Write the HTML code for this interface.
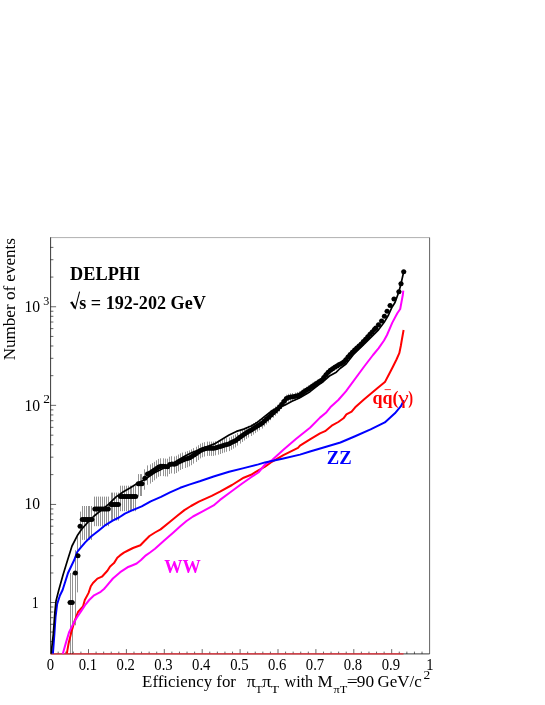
<!DOCTYPE html>
<html><head><meta charset="utf-8"><title>plot</title>
<style>
html,body{margin:0;padding:0;background:#fff;}
body{width:545px;height:705px;position:relative;overflow:hidden;font-family:"Liberation Serif",serif;color:#000;}
svg text{white-space:pre;}
</style></head><body>
<svg width="545" height="705" viewBox="0 0 545 705" style="position:absolute;left:0;top:0"><defs><clipPath id="cp"><rect x="50.6" y="237.6" width="379.0" height="416.9"/></clipPath></defs><path d="M50.6 237.6H429.6" stroke="#000" stroke-width="0.32" fill="none"/><path d="M429.6 237.6V653.9" stroke="#000" stroke-width="0.62" fill="none"/><path d="M50.6 237.29999999999998V653.9H429.6" stroke="#000" stroke-width="0.78" fill="none"/><path d="M50.6 641.58h2.8 M50.6 632.06h2.8 M50.6 624.29h2.8 M50.6 617.71h2.8 M50.6 612.02h2.8 M50.6 606.99h2.8 M50.6 602.50h5.5 M50.6 572.98h2.8 M50.6 555.72h2.8 M50.6 543.47h2.8 M50.6 533.97h2.8 M50.6 526.20h2.8 M50.6 519.64h2.8 M50.6 513.95h2.8 M50.6 508.94h2.8 M50.6 504.45h5.5 M50.6 474.62h2.8 M50.6 457.17h2.8 M50.6 444.79h2.8 M50.6 435.18h2.8 M50.6 427.34h2.8 M50.6 420.70h2.8 M50.6 414.95h2.8 M50.6 409.88h2.8 M50.6 405.35h5.5 M50.6 375.67h2.8 M50.6 358.31h2.8 M50.6 345.99h2.8 M50.6 336.43h2.8 M50.6 328.62h2.8 M50.6 322.02h2.8 M50.6 316.31h2.8 M50.6 311.26h2.8 M50.6 306.75h5.5 M50.6 277.07h2.8 M50.6 259.71h2.8 M50.6 247.39h2.8 M58.18 653.9v-2.3 M65.76 653.9v-2.3 M73.34 653.9v-2.3 M80.92 653.9v-2.3 M88.50 653.9v-4.8 M96.08 653.9v-2.3 M103.66 653.9v-2.3 M111.24 653.9v-2.3 M118.82 653.9v-2.3 M126.40 653.9v-4.8 M133.98 653.9v-2.3 M141.56 653.9v-2.3 M149.14 653.9v-2.3 M156.72 653.9v-2.3 M164.30 653.9v-4.8 M171.88 653.9v-2.3 M179.46 653.9v-2.3 M187.04 653.9v-2.3 M194.62 653.9v-2.3 M202.20 653.9v-4.8 M209.78 653.9v-2.3 M217.36 653.9v-2.3 M224.94 653.9v-2.3 M232.52 653.9v-2.3 M240.10 653.9v-4.8 M247.68 653.9v-2.3 M255.26 653.9v-2.3 M262.84 653.9v-2.3 M270.42 653.9v-2.3 M278.00 653.9v-4.8 M285.58 653.9v-2.3 M293.16 653.9v-2.3 M300.74 653.9v-2.3 M308.32 653.9v-2.3 M315.90 653.9v-4.8 M323.48 653.9v-2.3 M331.06 653.9v-2.3 M338.64 653.9v-2.3 M346.22 653.9v-2.3 M353.80 653.9v-4.8 M361.38 653.9v-2.3 M368.96 653.9v-2.3 M376.54 653.9v-2.3 M384.12 653.9v-2.3 M391.70 653.9v-4.8 M399.28 653.9v-2.3 M406.86 653.9v-2.3 M414.44 653.9v-2.3 M422.02 653.9v-2.3" stroke="#000" stroke-width="0.6" fill="none"/><path d="M50.6 653.9H403.5" stroke="#e8303a" stroke-width="1.3" fill="none"/><g clip-path="url(#cp)" fill="none" stroke-linejoin="round" stroke-linecap="butt"><path d="M70.5 573.0V653.9 M67.3 602.5h5.6 M72.5 573.0V653.9 M69.4 602.5h5.6 M75.5 550.2V625.3 M72.5 573.0h5.6 M77.5 536.3V592.4 M75.1 555.7h5.6 M80.5 511.6V548.5 M77.3 526.2h5.6 M82.5 506.0V539.9 M79.5 519.6h5.6 M84.5 506.0V539.9 M81.4 519.6h5.6 M86.5 506.0V539.9 M83.3 519.6h5.6 M88.5 506.0V539.9 M85.2 519.6h5.6 M89.5 506.0V539.9 M87.1 519.6h5.6 M91.5 506.0V539.9 M89.0 519.6h5.6 M94.5 496.6V526.2 M92.1 508.9h5.6 M96.5 496.6V526.2 M94.0 508.9h5.6 M98.5 496.6V526.2 M95.9 508.9h5.6 M100.5 496.6V526.2 M97.8 508.9h5.6 M102.5 496.6V526.2 M99.7 508.9h5.6 M104.5 496.6V526.2 M101.6 508.9h5.6 M106.5 496.6V526.2 M103.5 508.9h5.6 M108.5 496.6V526.2 M105.4 508.9h5.6 M111.5 492.6V520.6 M108.2 504.4h5.6 M112.5 492.6V520.6 M110.0 504.4h5.6 M114.5 492.6V520.6 M111.9 504.4h5.6 M116.5 492.6V520.6 M113.7 504.4h5.6 M118.5 492.6V520.6 M115.6 504.4h5.6 M120.5 485.7V511.2 M117.7 496.6h5.6 M122.5 485.7V511.2 M119.6 496.6h5.6 M124.5 485.7V511.2 M121.5 496.6h5.6 M126.5 485.7V511.2 M123.4 496.6h5.6 M128.5 485.7V511.2 M125.3 496.6h5.6 M130.5 485.7V511.2 M127.2 496.6h5.6 M131.5 485.7V511.2 M129.1 496.6h5.6 M133.5 485.7V511.2 M131.0 496.6h5.6 M135.5 485.7V511.2 M132.9 496.6h5.6 M138.5 474.1V496.0 M135.5 483.7h5.6 M140.5 474.1V496.0 M137.3 483.7h5.6 M141.5 474.1V496.0 M139.1 483.7h5.6 M144.5 469.3V489.7 M142.1 478.3h5.6 M147.5 465.4V484.8 M144.7 474.0h5.6 M150.5 464.4V483.6 M147.2 473.0h5.6 M152.5 463.1V482.0 M149.4 471.5h5.6 M154.5 461.8V480.3 M151.6 470.0h5.6 M156.5 460.3V478.5 M153.8 468.5h5.6 M158.5 458.9V476.8 M156.0 466.9h5.6 M160.5 458.3V476.1 M158.2 466.3h5.6 M163.5 458.3V476.1 M160.4 466.3h5.6 M165.5 458.6V476.4 M162.6 466.6h5.6 M167.5 458.7V476.5 M164.8 466.7h5.6 M169.5 456.7V474.0 M167.0 464.5h5.6 M171.5 456.2V473.4 M169.2 463.9h5.6 M174.5 456.5V473.8 M171.4 464.3h5.6 M176.5 455.8V473.0 M173.6 463.6h5.6 M178.5 454.5V471.4 M175.8 462.1h5.6 M180.5 453.4V470.0 M178.0 460.9h5.6 M182.5 452.6V469.0 M180.2 460.0h5.6 M185.5 451.8V468.0 M182.4 459.1h5.6 M187.5 451.1V467.3 M184.6 458.4h5.6 M189.5 450.4V466.4 M186.8 457.7h5.6 M191.5 449.4V465.2 M189.0 456.6h5.6 M193.5 448.1V463.6 M191.2 455.1h5.6 M196.5 446.7V461.9 M193.4 453.6h5.6 M198.5 445.2V460.1 M195.6 452.0h5.6 M200.5 443.7V458.4 M197.8 450.4h5.6 M202.5 442.8V457.3 M200.0 449.5h5.6 M204.5 442.2V456.6 M202.2 448.8h5.6 M207.5 441.6V455.9 M204.4 448.2h5.6 M209.5 441.6V455.9 M206.6 448.2h5.6 M211.5 441.6V455.9 M208.8 448.2h5.6 M213.5 441.6V455.9 M211.0 448.2h5.6 M215.5 441.2V455.4 M213.2 447.7h5.6 M218.5 440.6V454.7 M215.4 447.1h5.6 M220.5 440.0V454.0 M217.6 446.4h5.6 M222.5 439.3V453.2 M219.8 445.7h5.6 M224.5 438.7V452.5 M222.0 445.1h5.6 M226.5 438.1V451.8 M224.2 444.4h5.6 M229.5 437.5V451.1 M226.4 443.7h5.6 M231.5 436.5V449.8 M228.6 442.6h5.6 M233.5 435.4V448.6 M230.8 441.5h5.6 M235.5 434.4V447.4 M233.0 440.4h5.6 M237.5 432.8V445.6 M235.2 438.7h5.6 M240.5 431.1V443.6 M237.4 436.9h5.6 M242.5 429.7V442.0 M239.6 435.4h5.6 M244.5 428.4V440.5 M241.8 434.0h5.6 M246.5 427.1V438.9 M244.0 432.6h5.6 M248.5 425.8V437.5 M246.2 431.2h5.6 M251.5 424.5V436.0 M248.4 429.9h5.6 M253.5 423.2V434.6 M250.6 428.5h5.6 M255.5 421.9V433.1 M252.8 427.2h5.6 M257.5 420.7V431.6 M255.0 425.8h5.6 M259.5 419.4V430.2 M257.2 424.4h5.6 M262.5 418.0V428.6 M259.4 423.0h5.6 M264.5 416.0V426.4 M261.6 420.9h5.6 M266.5 414.3V424.5 M263.8 419.1h5.6 M268.5 412.7V422.6 M266.0 417.3h5.6 M270.5 410.5V420.2 M268.2 415.1h5.6 M273.5 408.3V417.7 M270.4 412.7h5.6 M275.5 406.5V415.8 M272.6 410.9h5.6 M277.5 404.8V413.8 M274.8 409.1h5.6 M279.5 402.6V411.4 M277.0 406.8h5.6 M281.5 400.1V408.6 M279.2 404.2h5.6 M284.5 397.4V405.6 M281.4 401.3h5.6 M286.5 394.7V402.6 M283.6 398.5h5.6 M288.5 393.8V401.6 M285.8 397.5h5.6 M290.5 393.3V401.0 M288.0 397.0h5.6 M292.5 393.1V400.8 M290.2 396.8h5.6 M295.5 392.6V400.4 M292.4 396.3h5.6 M297.5 392.0V399.7 M294.6 395.7h5.6 M299.5 391.4V399.0 M296.8 395.0h5.6 M301.5 389.9V397.4 M299.0 393.5h5.6 M303.5 388.3V395.6 M301.2 391.8h5.6 M306.5 386.8V394.0 M303.4 390.3h5.6 M308.5 385.5V392.6 M305.6 388.9h5.6 M310.5 384.1V391.1 M307.8 387.5h5.6 M312.5 382.7V389.6 M310.0 386.0h5.6 M314.5 381.3V388.0 M312.2 384.5h5.6 M317.5 379.9V386.5 M314.4 383.1h5.6 M319.5 378.5V385.0 M316.6 381.6h5.6 M321.5 377.1V383.5 M318.8 380.2h5.6 M323.5 374.6V380.8 M321.0 377.6h5.6 M325.5 371.9V377.9 M323.2 374.8h5.6 M328.5 369.4V375.2 M325.4 372.2h5.6 M330.5 367.6V373.3 M327.6 370.3h5.6 M332.5 366.1V371.7 M329.8 368.8h5.6 M334.5 364.6V370.1 M332.0 367.3h5.6 M336.5 363.3V368.7 M334.2 365.9h5.6 M339.5 362.0V367.3 M336.4 364.6h5.6 M341.5 360.9V366.1 M338.6 363.4h5.6 M343.5 359.6V364.8 M340.8 362.1h5.6 M345.5 357.2V362.3 M343.0 359.7h5.6 M347.5 354.7V359.5 M345.2 357.0h5.6 M350.5 352.2V356.9 M347.4 354.5h5.6 M352.5 349.9V354.5 M349.6 352.2h5.6 M354.5 347.7V352.2 M351.8 349.9h5.6 M356.5 345.8V350.2 M354.0 347.9h5.6 M358.5 343.9V348.2 M356.2 346.0h5.6 M361.5 341.8V346.0 M358.4 343.9h5.6 M363.5 339.6V343.7 M360.6 341.6h5.6 M365.5 337.3V341.2 M362.8 339.2h5.6 M367.5 334.9V338.7 M365.0 336.8h5.6 M369.5 332.5V336.3 M367.2 334.3h5.6 M372.5 330.1V333.8 M369.4 331.9h5.6 M374.5 327.8V331.3 M371.6 329.5h5.6 M375.5 326.3V329.8 M373.0 328.0h5.6 M378.5 323.1V326.4 M375.7 324.7h5.6 M381.5 319.3V322.5 M378.8 320.9h5.6 M384.5 314.8V317.8 M381.6 316.3h5.6 M387.5 309.9V312.8 M384.3 311.3h5.6 M390.5 304.2V306.9 M387.3 305.5h5.6 M394.5 297.8V300.3 M391.2 299.0h5.6 M398.5 290.6V292.9 M396.1 291.7h5.6 M401.5 282.7V284.7 M398.2 283.7h5.6 M403.5 270.8V272.6 M400.9 271.7h5.6" stroke="#000" stroke-opacity="0.85" stroke-width="0.5"/><polyline points="66.8,653.7 68.7,642.9 71.4,631.9 74.7,620.8 78.0,612.0 83.0,606.5 84.8,600.0 88.6,592.9 90.8,586.3 93.0,583.0 97.4,578.6 101.9,576.7 107.4,570.8 110.1,566.4 114.0,563.1 117.3,557.8 120.0,555.4 123.9,552.6 128.0,550.5 133.0,548.0 140.4,545.2 144.0,541.5 149.5,536.0 155.0,532.5 160.6,529.4 169.7,522.0 177.0,516.0 184.4,510.1 191.0,506.0 198.9,501.7 211.7,495.8 220.0,491.6 232.0,485.0 243.7,477.7 251.1,474.8 258.4,470.3 265.0,466.7 270.5,462.6 283.4,455.2 298.0,447.9 300.0,445.6 310.0,439.3 320.0,433.4 325.1,431.2 331.7,425.7 338.3,422.0 343.5,418.3 346.4,414.3 351.6,411.7 355.2,407.3 360.0,402.9 364.2,399.3 377.0,388.6 384.9,382.1 388.9,374.5 392.9,366.7 396.5,359.5 399.3,353.2 400.8,346.0 401.9,339.5 403.6,330.0" stroke="#ff0000" stroke-width="2.0"/><polyline points="62.8,653.7 65.9,642.9 69.2,631.9 73.1,624.1 76.9,617.5 81.3,610.9 85.7,604.3 89.2,600.0 94.1,595.3 100.7,591.8 104.0,589.0 106.3,586.3 112.9,578.5 120.2,572.2 127.5,567.3 132.0,565.5 136.7,563.5 141.0,560.0 145.9,555.3 150.0,552.5 155.0,548.8 164.2,540.6 173.4,532.4 180.0,526.5 186.2,521.3 193.0,516.5 202.6,511.4 213.6,505.4 220.0,499.9 232.0,491.0 241.5,484.0 251.1,477.2 258.4,472.5 265.0,464.5 272.4,459.8 283.4,449.7 296.2,438.7 310.0,427.7 320.0,417.6 325.9,412.8 330.3,407.3 338.3,400.0 345.9,391.3 364.2,366.5 373.0,355.0 378.5,348.3 384.0,340.5 387.0,335.0 392.2,322.9 397.3,313.3 400.2,309.0 401.5,302.0 402.8,295.0 403.3,290.7" stroke="#ff00ff" stroke-width="2.0"/><polyline points="52.9,653.7 54.4,634.0 55.5,617.5 57.1,604.3 59.9,595.5 62.6,590.0 68.0,573.0 74.2,560.0 77.2,552.0 80.1,548.3 85.2,542.4 91.1,536.5 98.5,530.7 105.8,524.8 113.1,520.4 119.0,517.5 124.9,513.7 131.4,510.7 141.7,506.4 150.7,501.3 161.0,496.8 170.0,492.3 180.2,487.8 189.2,484.6 199.7,481.3 214.4,476.2 229.1,471.7 243.7,468.1 258.4,464.4 265.0,462.4 283.4,458.4 300.0,454.6 310.0,451.5 320.2,448.5 340.4,442.5 354.5,436.5 370.6,429.4 384.8,422.4 394.9,413.3 400.9,406.2 403.9,400.2" stroke="#0000ff" stroke-width="2.0"/><polyline points="51.1,653.7 53.3,634.0 54.9,612.0 56.0,601.0 58.8,590.0 63.0,575.0 67.6,560.0 72.0,546.0 77.2,535.8 81.6,529.2 88.2,521.9 94.1,516.0 101.4,510.1 108.7,504.2 116.1,496.9 123.4,491.7 130.0,488.0 135.9,484.3 144.3,479.8 154.5,472.8 163.5,468.3 175.0,462.0 185.0,456.0 192.0,452.5 199.7,449.6 214.4,443.9 221.7,439.5 229.1,435.1 236.4,431.4 243.7,429.1 251.1,426.0 257.0,422.6 264.4,416.6 271.7,410.8 278.0,407.6 284.7,405.2 292.0,401.3 299.4,398.0 306.7,393.7 310.0,391.7 318.3,385.0 322.0,382.5 329.4,376.0 336.3,372.2 340.0,368.5 346.0,364.0 353.3,354.7 364.4,343.9 375.0,333.3 378.5,329.8 384.0,322.6 388.5,315.0 392.0,307.2 395.0,302.5 398.9,291.7 401.0,283.7 403.7,271.7" stroke="#000" stroke-width="1.7"/></g><g fill="#000"><circle cx="70.1" cy="602.5" r="2.5"/><circle cx="72.2" cy="602.5" r="2.5"/><circle cx="75.3" cy="573.0" r="2.5"/><circle cx="77.9" cy="555.7" r="2.5"/><circle cx="80.1" cy="526.2" r="2.5"/><circle cx="82.3" cy="519.6" r="2.5"/><circle cx="84.2" cy="519.6" r="2.5"/><circle cx="86.1" cy="519.6" r="2.5"/><circle cx="88.0" cy="519.6" r="2.5"/><circle cx="89.9" cy="519.6" r="2.5"/><circle cx="91.8" cy="519.6" r="2.5"/><circle cx="94.9" cy="508.9" r="2.5"/><circle cx="96.8" cy="508.9" r="2.5"/><circle cx="98.7" cy="508.9" r="2.5"/><circle cx="100.6" cy="508.9" r="2.5"/><circle cx="102.5" cy="508.9" r="2.5"/><circle cx="104.4" cy="508.9" r="2.5"/><circle cx="106.3" cy="508.9" r="2.5"/><circle cx="108.2" cy="508.9" r="2.5"/><circle cx="111.0" cy="504.4" r="2.5"/><circle cx="112.8" cy="504.4" r="2.5"/><circle cx="114.7" cy="504.4" r="2.5"/><circle cx="116.5" cy="504.4" r="2.5"/><circle cx="118.4" cy="504.4" r="2.5"/><circle cx="120.5" cy="496.6" r="2.5"/><circle cx="122.4" cy="496.6" r="2.5"/><circle cx="124.3" cy="496.6" r="2.5"/><circle cx="126.2" cy="496.6" r="2.5"/><circle cx="128.1" cy="496.6" r="2.5"/><circle cx="130.0" cy="496.6" r="2.5"/><circle cx="131.9" cy="496.6" r="2.5"/><circle cx="133.8" cy="496.6" r="2.5"/><circle cx="135.7" cy="496.6" r="2.5"/><circle cx="138.3" cy="483.7" r="2.5"/><circle cx="140.1" cy="483.7" r="2.5"/><circle cx="141.9" cy="483.7" r="2.5"/><circle cx="144.9" cy="478.3" r="2.5"/><circle cx="147.5" cy="474.0" r="2.5"/><circle cx="150.0" cy="473.0" r="2.5"/><circle cx="152.2" cy="471.5" r="2.5"/><circle cx="154.4" cy="470.0" r="2.5"/><circle cx="156.6" cy="468.5" r="2.5"/><circle cx="158.8" cy="466.9" r="2.5"/><circle cx="161.0" cy="466.3" r="2.5"/><circle cx="163.2" cy="466.3" r="2.5"/><circle cx="165.4" cy="466.6" r="2.5"/><circle cx="167.6" cy="466.7" r="2.5"/><circle cx="169.8" cy="464.5" r="2.5"/><circle cx="172.0" cy="463.9" r="2.5"/><circle cx="174.2" cy="464.3" r="2.5"/><circle cx="176.4" cy="463.6" r="2.5"/><circle cx="178.6" cy="462.1" r="2.5"/><circle cx="180.8" cy="460.9" r="2.5"/><circle cx="183.0" cy="460.0" r="2.5"/><circle cx="185.2" cy="459.1" r="2.5"/><circle cx="187.4" cy="458.4" r="2.5"/><circle cx="189.6" cy="457.7" r="2.5"/><circle cx="191.8" cy="456.6" r="2.5"/><circle cx="194.0" cy="455.1" r="2.5"/><circle cx="196.2" cy="453.6" r="2.5"/><circle cx="198.4" cy="452.0" r="2.5"/><circle cx="200.6" cy="450.4" r="2.5"/><circle cx="202.8" cy="449.5" r="2.5"/><circle cx="205.0" cy="448.8" r="2.5"/><circle cx="207.2" cy="448.2" r="2.5"/><circle cx="209.4" cy="448.2" r="2.5"/><circle cx="211.6" cy="448.2" r="2.5"/><circle cx="213.8" cy="448.2" r="2.5"/><circle cx="216.0" cy="447.7" r="2.5"/><circle cx="218.2" cy="447.1" r="2.5"/><circle cx="220.4" cy="446.4" r="2.5"/><circle cx="222.6" cy="445.7" r="2.5"/><circle cx="224.8" cy="445.1" r="2.5"/><circle cx="227.0" cy="444.4" r="2.5"/><circle cx="229.2" cy="443.7" r="2.5"/><circle cx="231.4" cy="442.6" r="2.5"/><circle cx="233.6" cy="441.5" r="2.5"/><circle cx="235.8" cy="440.4" r="2.5"/><circle cx="238.0" cy="438.7" r="2.5"/><circle cx="240.2" cy="436.9" r="2.5"/><circle cx="242.4" cy="435.4" r="2.5"/><circle cx="244.6" cy="434.0" r="2.5"/><circle cx="246.8" cy="432.6" r="2.5"/><circle cx="249.0" cy="431.2" r="2.5"/><circle cx="251.2" cy="429.9" r="2.5"/><circle cx="253.4" cy="428.5" r="2.5"/><circle cx="255.6" cy="427.2" r="2.5"/><circle cx="257.8" cy="425.8" r="2.5"/><circle cx="260.0" cy="424.4" r="2.5"/><circle cx="262.2" cy="423.0" r="2.5"/><circle cx="264.4" cy="420.9" r="2.5"/><circle cx="266.6" cy="419.1" r="2.5"/><circle cx="268.8" cy="417.3" r="2.5"/><circle cx="271.0" cy="415.1" r="2.5"/><circle cx="273.2" cy="412.7" r="2.5"/><circle cx="275.4" cy="410.9" r="2.5"/><circle cx="277.6" cy="409.1" r="2.5"/><circle cx="279.8" cy="406.8" r="2.5"/><circle cx="282.0" cy="404.2" r="2.5"/><circle cx="284.2" cy="401.3" r="2.5"/><circle cx="286.4" cy="398.5" r="2.5"/><circle cx="288.6" cy="397.5" r="2.5"/><circle cx="290.8" cy="397.0" r="2.5"/><circle cx="293.0" cy="396.8" r="2.5"/><circle cx="295.2" cy="396.3" r="2.5"/><circle cx="297.4" cy="395.7" r="2.5"/><circle cx="299.6" cy="395.0" r="2.5"/><circle cx="301.8" cy="393.5" r="2.5"/><circle cx="304.0" cy="391.8" r="2.5"/><circle cx="306.2" cy="390.3" r="2.5"/><circle cx="308.4" cy="388.9" r="2.5"/><circle cx="310.6" cy="387.5" r="2.5"/><circle cx="312.8" cy="386.0" r="2.5"/><circle cx="315.0" cy="384.5" r="2.5"/><circle cx="317.2" cy="383.1" r="2.5"/><circle cx="319.4" cy="381.6" r="2.5"/><circle cx="321.6" cy="380.2" r="2.5"/><circle cx="323.8" cy="377.6" r="2.5"/><circle cx="326.0" cy="374.8" r="2.5"/><circle cx="328.2" cy="372.2" r="2.5"/><circle cx="330.4" cy="370.3" r="2.5"/><circle cx="332.6" cy="368.8" r="2.5"/><circle cx="334.8" cy="367.3" r="2.5"/><circle cx="337.0" cy="365.9" r="2.5"/><circle cx="339.2" cy="364.6" r="2.5"/><circle cx="341.4" cy="363.4" r="2.5"/><circle cx="343.6" cy="362.1" r="2.5"/><circle cx="345.8" cy="359.7" r="2.5"/><circle cx="348.0" cy="357.0" r="2.5"/><circle cx="350.2" cy="354.5" r="2.5"/><circle cx="352.4" cy="352.2" r="2.5"/><circle cx="354.6" cy="349.9" r="2.5"/><circle cx="356.8" cy="347.9" r="2.5"/><circle cx="359.0" cy="346.0" r="2.5"/><circle cx="361.2" cy="343.9" r="2.5"/><circle cx="363.4" cy="341.6" r="2.5"/><circle cx="365.6" cy="339.2" r="2.5"/><circle cx="367.8" cy="336.8" r="2.5"/><circle cx="370.0" cy="334.3" r="2.5"/><circle cx="372.2" cy="331.9" r="2.5"/><circle cx="374.4" cy="329.5" r="2.5"/><circle cx="375.8" cy="328.0" r="2.5"/><circle cx="378.5" cy="324.7" r="2.5"/><circle cx="381.6" cy="320.9" r="2.5"/><circle cx="384.4" cy="316.3" r="2.5"/><circle cx="387.1" cy="311.3" r="2.5"/><circle cx="390.1" cy="305.5" r="2.5"/><circle cx="394.0" cy="299.0" r="2.5"/><circle cx="398.9" cy="291.7" r="2.5"/><circle cx="401.0" cy="283.7" r="2.5"/><circle cx="403.7" cy="271.7" r="2.5"/></g></svg>
<svg width="545" height="705" viewBox="0 0 545 705" style="position:absolute;left:0;top:0;will-change:transform;font-family:'Liberation Serif',serif" fill="#000"><path d="M70.3 303.1 L72.0 302.0 L75.3 308.4 L79.6 291.6" fill="none" stroke="#000" stroke-width="1.05" stroke-linejoin="miter"/><path d="M71.6 302.2 L74.9 308.4" fill="none" stroke="#000" stroke-width="2.0"/><path d="M384.6 389.6H390.9" stroke="#ff0000" stroke-width="0.8" fill="none"/><text transform="translate(15.0,360.29) rotate(-90) scale(1.0284,1)" font-size="16.6">Number of events</text><text transform="translate(70.08,279.50) scale(1.0163,1)" font-size="18" font-weight="bold">DELPHI</text><text transform="translate(79.25,308.60) scale(1.0072,1)" font-size="18" font-weight="bold">s = 192-202 GeV</text><text transform="translate(24.52,312.20) scale(0.9558,1)" font-size="16.4">10</text><text transform="translate(43.32,304.60) scale(1.0087,1)" font-size="12">3</text><text transform="translate(24.42,410.90) scale(0.9558,1)" font-size="16.4">10</text><text transform="translate(43.31,403.20) scale(1.1225,1)" font-size="12">2</text><text transform="translate(24.43,509.20) scale(0.9488,1)" font-size="16.4">10</text><text transform="translate(32.05,607.70) scale(0.7967,1)" font-size="16.4">1</text><text transform="translate(46.63,669.60) scale(0.8950,1)" font-size="16.4">0</text><text transform="translate(78.69,669.60) scale(0.8950,1)" font-size="16.4">0.1</text><text transform="translate(116.55,669.60) scale(0.8950,1)" font-size="16.4">0.2</text><text transform="translate(154.33,669.60) scale(0.8950,1)" font-size="16.4">0.3</text><text transform="translate(192.06,669.60) scale(0.8950,1)" font-size="16.4">0.4</text><text transform="translate(230.13,669.60) scale(0.8950,1)" font-size="16.4">0.5</text><text transform="translate(267.97,669.60) scale(0.8950,1)" font-size="16.4">0.6</text><text transform="translate(305.86,669.60) scale(0.8950,1)" font-size="16.4">0.7</text><text transform="translate(343.83,669.60) scale(0.8950,1)" font-size="16.4">0.8</text><text transform="translate(381.75,669.60) scale(0.8950,1)" font-size="16.4">0.9</text><text transform="translate(426.13,669.60) scale(0.8950,1)" font-size="16.4">1</text><text transform="translate(142.11,687.30) scale(1.0173,1)" font-size="16.6">Efficiency for</text><text transform="translate(246.66,687.30) scale(1.0503,1)" font-size="16.6">π</text><text transform="translate(255.18,692.80) scale(1.0887,1)" font-size="11">T</text><text transform="translate(262.26,687.30) scale(1.0503,1)" font-size="16.6">π</text><text transform="translate(270.75,692.80) scale(1.2465,1)" font-size="11">T</text><text transform="translate(284.48,687.30) scale(0.9735,1)" font-size="16.6">with</text><text transform="translate(317.51,687.30) scale(1.0293,1)" font-size="16.6">M</text><text transform="translate(333.43,692.80) scale(1.1223,1)" font-size="11">πT</text><text transform="translate(346.63,687.30) scale(1.1781,1)" font-size="16.6">=</text><text transform="translate(356.84,687.30) scale(1.0432,1)" font-size="16.6">90</text><text transform="translate(377.40,687.30) scale(1.0230,1)" font-size="16.6">GeV/c</text><text transform="translate(423.41,678.50) scale(1.1713,1)" font-size="11.5">2</text><text transform="translate(164.14,573.40) scale(1.0151,1)" font-size="18" font-weight="bold" fill="#ff00ff">WW</text><text transform="translate(326.81,464.40) scale(1.0388,1)" font-size="18" font-weight="bold" fill="#0000ff">ZZ</text><text transform="translate(372.56,403.70) scale(1.0001,1)" font-size="18" font-weight="bold" fill="#ff0000">qq(</text><text transform="translate(398.33,403.70) scale(1.3215,1)" font-size="18" fill="#ff0000">γ</text><text transform="translate(408.34,403.70) scale(0.8003,1)" font-size="18" font-weight="bold" fill="#ff0000">)</text></svg>
</body></html>
